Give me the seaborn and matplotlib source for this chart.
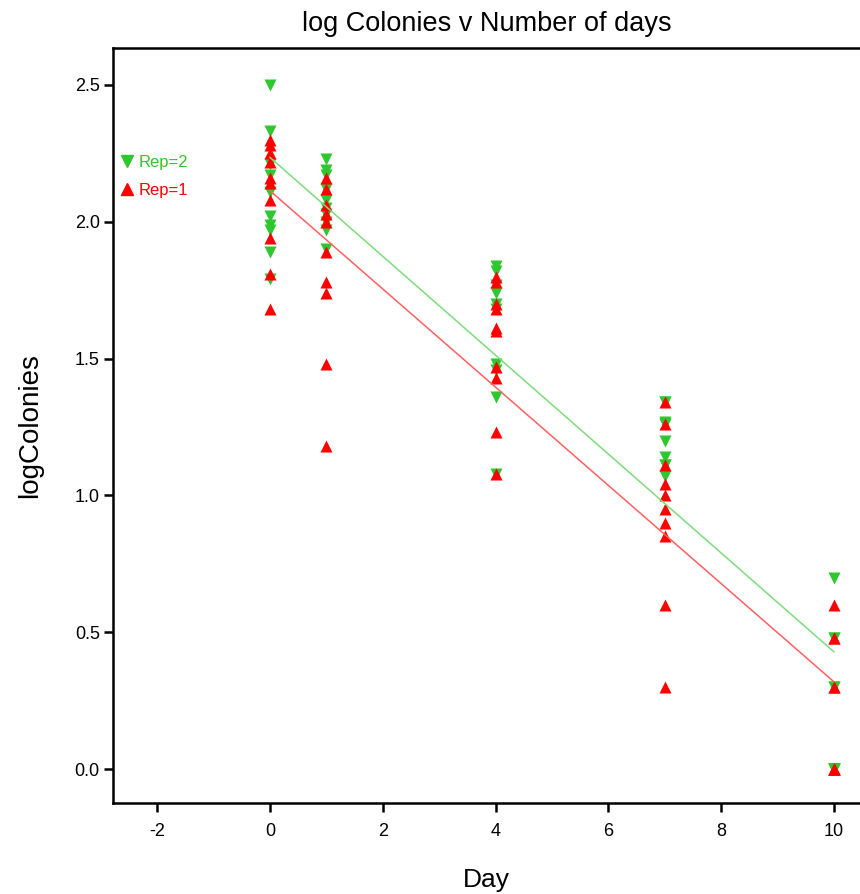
import numpy as np
import pandas as pd
import matplotlib
matplotlib.use("Agg")
import matplotlib.pyplot as plt
import seaborn as sns
from matplotlib.lines import Line2D

# log colony counts, per day and replicate
# (overlapping points at the same value are repeated)
days = [0, 1, 4, 7, 10]
rep1_values = {
    0: [2.30, 2.28, 2.25, 2.22, 2.16, 2.14, 2.08, 1.94, 1.81, 1.68],
    1: [2.16, 2.12, 2.06, 2.03, 2.00, 1.89, 1.78, 1.74, 1.48, 1.18],
    4: [1.80, 1.78, 1.70, 1.68, 1.61, 1.60, 1.47, 1.43, 1.23, 1.08],
    7: [1.34, 1.26, 1.11, 1.04, 1.00, 0.95, 0.90, 0.85, 0.60, 0.30],
    10: [0.60, 0.48, 0.48, 0.30, 0.30, 0.00, 0.00, 0.00, 0.00, 0.00],
}
rep2_values = {
    0: [2.50, 2.33, 2.21, 2.17, 2.11, 2.02, 1.99, 1.97, 1.89, 1.79],
    1: [2.23, 2.19, 2.17, 2.12, 2.08, 2.05, 2.03, 2.00, 1.97, 1.90],
    4: [1.84, 1.82, 1.77, 1.74, 1.70, 1.68, 1.48, 1.46, 1.36, 1.08],
    7: [1.34, 1.34, 1.27, 1.26, 1.26, 1.20, 1.14, 1.11, 1.11, 1.07],
    10: [0.70, 0.48, 0.48, 0.30, 0.30, 0.00, 0.00, 0.00, 0.00, 0.00],
}

rows = []
for rep, vals in [(1, rep1_values), (2, rep2_values)]:
    for d in days:
        for v in vals[d]:
            rows.append({"Day": d, "logColonies": v, "Rep": rep})
df = pd.DataFrame(rows)

sns.set_style("ticks")
plt.rcParams["font.family"] = ["Liberation Sans", "DejaVu Sans"]
plt.rcParams["axes.unicode_minus"] = False
for k in ["text.color", "axes.labelcolor", "xtick.color", "ytick.color"]:
    plt.rcParams[k] = "black"

fig = plt.figure(figsize=(8.6, 8.94), dpi=100)
ax = fig.add_axes([0.1314, 0.1018, 0.8686, 0.8445])

green = "#2fc72f"
red = "#ff0000"

# green first so red triangles sit on top
sns.regplot(data=df[df.Rep == 2], x="Day", y="logColonies", ci=None, ax=ax,
            marker="v", color=green,
            scatter_kws={"s": 75, "linewidths": 0, "alpha": 1, "zorder": 3},
            line_kws={"color": "#7cdc7c", "lw": 1.1, "zorder": 4})
sns.regplot(data=df[df.Rep == 1], x="Day", y="logColonies", ci=None, ax=ax,
            marker="^", color=red,
            scatter_kws={"s": 75, "linewidths": 0, "alpha": 1, "zorder": 3},
            line_kws={"color": "#ff6060", "lw": 1.1, "zorder": 4})

ax.set_xlim(-2.78, 10.46)
ax.set_ylim(-0.124, 2.635)
ax.set_xticks([-2, 0, 2, 4, 6, 8, 10])
ax.set_yticks([0.0, 0.5, 1.0, 1.5, 2.0, 2.5])
ax.yaxis.set_major_formatter(matplotlib.ticker.FormatStrFormatter("%.1f"))

for s in ["left", "bottom", "top"]:
    ax.spines[s].set_linewidth(1.8)
    ax.spines[s].set_color("black")
ax.spines["right"].set_visible(False)
ax.tick_params(axis="both", direction="out", length=6.5, width=1.8,
               labelsize=13)
ax.tick_params(axis="y", pad=3)
ax.tick_params(axis="x", pad=8)

ax.set_xlabel("Day", fontsize=19, labelpad=20)
ax.set_ylabel("logColonies", fontsize=20, labelpad=23)
ax.set_title("log Colonies v Number of days", fontsize=19.5, pad=12)

handles = [
    Line2D([], [], marker="v", ls="", color=green, markersize=9),
    Line2D([], [], marker="^", ls="", color=red, markersize=9),
]
ax.legend(handles, ["Rep=2", "Rep=1"], loc="upper left",
          bbox_to_anchor=(0.008, 0.858), frameon=False, fontsize=12,
          borderaxespad=0, borderpad=0, handlelength=1.0,
          handletextpad=0.15, labelspacing=0.75, labelcolor=[green, red])

fig.savefig("out.png", dpi=100)
